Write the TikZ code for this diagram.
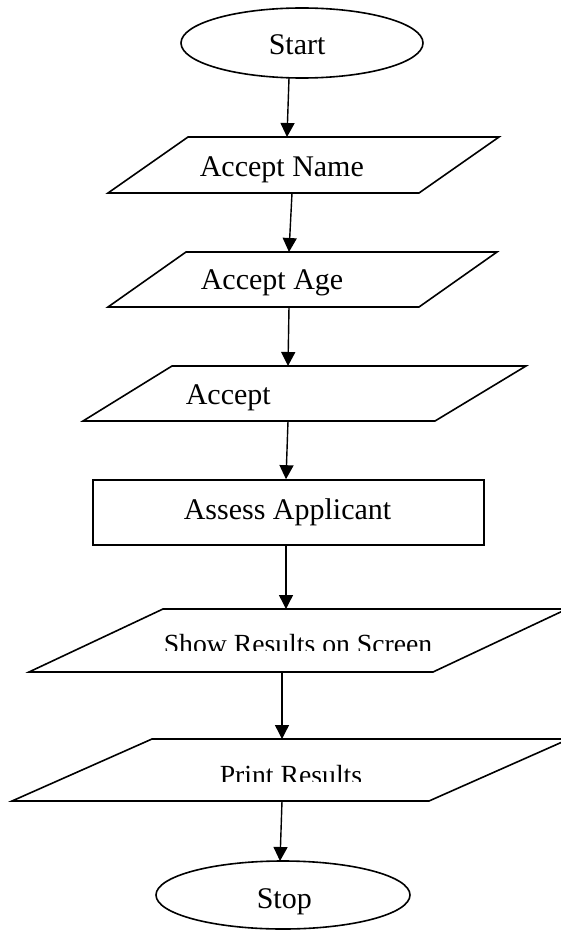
\documentclass[tikz,border=0pt]{standalone}
\usepackage{fontspec}
\setmainfont{Liberation Serif}
\usetikzlibrary{arrows.meta,shapes.geometric}
\begin{document}
\begin{tikzpicture}[x=1pt,y=-1pt,
  line width=1.6pt,
  terminal/.style={draw,ellipse,inner sep=0pt},
  process/.style={draw,rectangle,inner sep=0pt},
  iobox/.style={draw,line join=miter},
  txt/.style={anchor=base west,inner sep=0pt,font=\fontsize{30}{36}\selectfont},
  smalltxt/.style={txt,font=\fontsize{27.7}{33}\selectfont},
  flow/.style={-{Triangle[length=14pt,width=14pt]},line width=1.4pt}]
\useasboundingbox (0,0) rectangle (561,931);

% terminals
\node[terminal,minimum width=242pt,minimum height=70pt] (start) at (302,43) {};
\node[txt] (startText) at (268,55) {Start};
\node[terminal,minimum width=254pt,minimum height=68pt] (stop) at (283,895) {};
\node[txt] (stopText) at (256,908) {Stop};

% input/output parallelograms
\draw[iobox] (188,137) -- (499,137) -- (419,193) -- (108,193) -- cycle;
\node[txt] (nameText) at (199,176) {Accept Name};
\draw[iobox] (186,252) -- (497,252) -- (419,307) -- (108,307) -- cycle;
\node[txt] (ageText) at (200,289) {Accept Age};
\draw[iobox] (172,366) -- (526,366) -- (435,421) -- (83,421) -- cycle;
\node[txt] (acceptText) at (185,404) {Accept};
\draw[iobox] (163,609) -- (567,609) -- (433,672) -- (29,672) -- cycle;
\begin{scope}
  % the label box is too short, so the lower edge of the text is cut off
  \clip (0,600) rectangle (561,650.5);
  \node[smalltxt] (showText) at (163,653.5) {Show Results on Screen};
\end{scope}
\draw[iobox] (152,739) -- (569,739) -- (429,801) -- (12,801) -- cycle;
\begin{scope}
  \clip (0,730) rectangle (561,781);
  \node[smalltxt] (printText) at (219,784.5) {Print Results};
\end{scope}

% process box
\node[process,minimum width=391pt,minimum height=65pt] (assess) at (288.5,512.5) {};
\node[txt] (assessText) at (183,519) {Assess Applicant};

% connector end points on the parallelograms
\coordinate (startOut) at (289,78);
\coordinate (nameTop) at (287,137);
\coordinate (nameBot) at (292,193);
\coordinate (ageTop) at (289,252);
\coordinate (ageBot) at (289,307);
\coordinate (acceptTop) at (288,366);
\coordinate (acceptBot) at (288,421);
\coordinate (showTop) at (286,609);
\coordinate (showBot) at (282,672);
\coordinate (printTop) at (282,739);
\coordinate (printBot) at (282,801);
\coordinate (stopIn) at (280,861);

% flow
\draw[flow] (startOut) -- (nameTop);
\draw[flow] (nameBot) -- (ageTop);
\draw[flow] (ageBot) -- (acceptTop);
\draw[flow] (acceptBot) -- (assess.north -| 286,0);
\draw[flow] (assess.south -| showTop) -- (showTop);
\draw[flow] (showBot) -- (printTop);
\draw[flow] (printBot) -- (stopIn);
\end{tikzpicture}
\end{document}
